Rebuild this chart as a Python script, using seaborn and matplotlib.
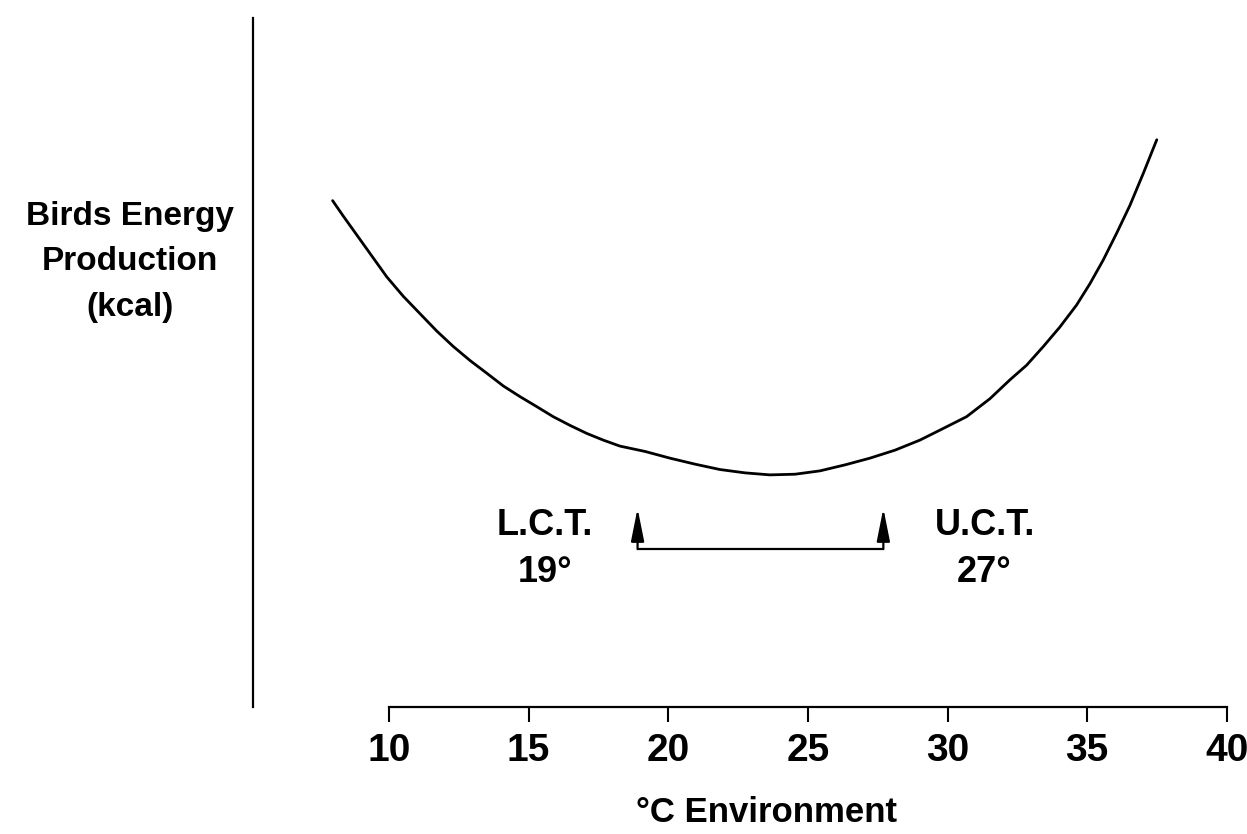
import matplotlib
matplotlib.use("Agg")
import matplotlib.pyplot as plt
from matplotlib import font_manager
import seaborn as sns
import pandas as pd

# temperature (°C) vs energy production (arbitrary units)
temp = [7.98, 8.36, 8.72, 9.32, 9.92, 10.51, 11.11, 11.71, 12.30, 12.90,
        13.50, 14.09, 14.69, 15.29, 15.88, 16.48, 17.08, 17.67, 18.27,
        19.17, 20.06, 20.96, 21.85, 22.75, 23.64, 24.54, 25.43, 26.33,
        27.22, 28.12, 29.01, 29.73, 30.68, 31.52, 32.23, 32.83, 33.43,
        34.02, 34.62, 35.10, 35.57, 36.05, 36.53, 37.01, 37.49]
energy = [75.7, 73.4, 71.3, 67.8, 64.3, 61.4, 58.8, 56.2, 53.9, 51.8,
          49.9, 48.0, 46.4, 44.9, 43.4, 42.1, 40.9, 39.9, 39.0,
          38.2, 37.2, 36.3, 35.5, 35.0, 34.7, 34.8, 35.3, 36.2,
          37.2, 38.4, 39.9, 41.4, 43.4, 46.1, 48.9, 51.1, 53.9,
          56.8, 60.1, 63.3, 66.8, 70.8, 75.0, 79.8, 84.8]

x_ticks = [10, 15, 20, 25, 30, 35, 40]

# thermoneutral zone bracket
lct_x, uct_x = 18.9, 27.7
bracket_base, bracket_tip = 23.6, 29.7
lct_label = ["L.C.T.", "19°"]
uct_label = ["U.C.T.", "27°"]

sns.set_theme(style="white")

names = {f.name for f in font_manager.fontManager.ttflist}
if "Liberation Sans Narrow" in names:
    cond = "Liberation Sans Narrow"
    big = 32
else:
    cond = "Liberation Sans"
    big = 28
plt.rcParams["font.family"] = [cond, "DejaVu Sans"]
plt.rcParams["text.color"] = "black"
plt.rcParams["axes.labelcolor"] = "black"
plt.rcParams["xtick.color"] = "black"

fig = plt.figure(figsize=(12.47, 8.34), dpi=100)
ax = fig.add_axes([253 / 1247, 1 - 707 / 834, (1240 - 253) / 1247, (707 - 18) / 834])

df = pd.DataFrame({"temp": temp, "energy": energy})
sns.lineplot(data=df, x="temp", y="energy", color="black", lw=2.0, ax=ax)

ax.set_xlim(5.13, 40.47)
ax.set_ylim(0, 103)

for s in ["top", "right"]:
    ax.spines[s].set_visible(False)
ax.spines["left"].set_linewidth(1.6)
ax.spines["left"].set_color("black")
ax.spines["bottom"].set_linewidth(1.6)
ax.spines["bottom"].set_color("black")
ax.spines["bottom"].set_bounds(10, 40)

ax.set_xticks(x_ticks)
ax.set_xticklabels([str(t) for t in x_ticks], fontsize=big, fontweight="bold", color="black")
ax.tick_params(axis="x", direction="out", length=11, width=1.5, pad=8, colors="black", bottom=True)
ax.tick_params(axis="y", left=False, labelleft=False)
ax.set_ylabel("")

ax.set_xlabel("°C Environment", fontsize=big - 3, fontweight="bold", va="center", color="black")
ax.xaxis.set_label_coords((766 - 253) / (1240 - 253), (707 - 812) / (707 - 18))

# bracket with arrows
ax.plot([lct_x, uct_x], [bracket_base, bracket_base], color="black", lw=1.6)
for xx in [lct_x, uct_x]:
    ax.annotate("", xy=(xx, bracket_tip), xytext=(xx, bracket_base),
                arrowprops=dict(arrowstyle="-|>,head_length=1.0,head_width=0.2",
                                color="black", lw=1.6, shrinkA=0, shrinkB=0,
                                mutation_scale=20))

ax.text(15.59, 27.2, lct_label[0], ha="center", va="center", fontsize=big - 2, fontweight="bold")
ax.text(15.59, 20.1, lct_label[1], ha="center", va="center", fontsize=big - 2, fontweight="bold")
ax.text(31.35, 27.2, uct_label[0], ha="center", va="center", fontsize=big - 2, fontweight="bold")
ax.text(31.30, 20.1, uct_label[1], ha="center", va="center", fontsize=big - 2, fontweight="bold")

fig.text(130 / 1247, 1 - 262 / 834, "Birds Energy\nProduction\n(kcal)",
         ha="center", va="center", multialignment="center",
         fontsize=24, fontweight="bold", family=["Liberation Sans", "DejaVu Sans"],
         linespacing=1.6)

fig.savefig("out.png", dpi=100, facecolor="white")
